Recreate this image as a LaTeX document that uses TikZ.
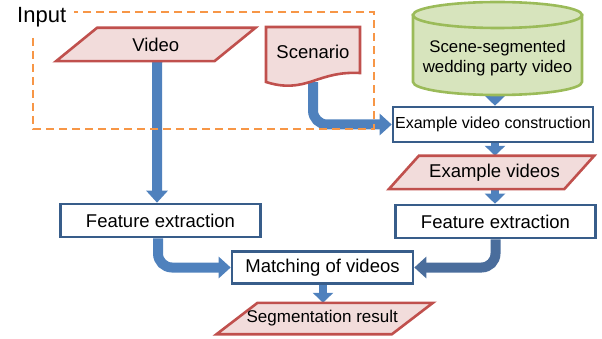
\documentclass[tikz,border=0pt]{standalone}
\usepackage{fontspec}
\setmainfont{Liberation Sans}
\usetikzlibrary{arrows.meta,backgrounds}
\definecolor{boxblue}{HTML}{385D8A}
\definecolor{arrblue}{HTML}{4F81BD}
\definecolor{arrdark}{HTML}{4A6D9C}
\definecolor{parafill}{HTML}{F2DCDB}
\definecolor{paradraw}{HTML}{C0504D}
\definecolor{cylfill}{HTML}{D7E4BD}
\definecolor{cyldraw}{HTML}{9BBB59}
\definecolor{dashorange}{HTML}{F79646}
\begin{document}
\begin{tikzpicture}[x=1pt,y=-1pt,
 procbox/.style={draw=boxblue, line width=2.6pt, fill=white, minimum width=200pt, minimum height=33pt, inner sep=0pt, font=\fontsize{18.5}{20}\selectfont},
 txt/.style={inner sep=0pt, font=\fontsize{18.5}{20}\selectfont},
 bigarrow/.style={draw=arrblue, line width=10pt, -{Triangle[width=21pt,length=12pt]}, rounded corners=14pt},
 smallarrow/.style={draw=arrblue, line width=8pt, -{Triangle[width=20pt,length=10pt]}},
 parashape/.style={fill=parafill, draw=paradraw, line width=2.6pt, line join=miter},
]
\useasboundingbox (0,0) rectangle (602,339);
% nodes
\node[txt, minimum width=158pt, minimum height=33pt] (vid) at (155.75,44.5) {Video};
\node[txt, minimum width=94pt, minimum height=55pt] (scen) at (313,54.5) {};
\node[txt] at (313,52) {Scenario};
\node[txt, minimum width=169pt, minimum height=74pt, align=center, font=\fontsize{16.8}{20}\selectfont] (cyl) at (497.5,58) {Scene-segmented\\wedding party video};
\node[procbox, minimum height=35pt, font=\fontsize{16}{18}\selectfont] (evc) at (493,124.5) {Example video construction};
\node[txt, minimum width=175pt, minimum height=33pt] (ev) at (491.5,172.5) {\hspace*{6pt}Example videos};
\node[procbox] (fel) at (160.5,220.5) {Feature extraction};
\node[procbox] (fer) at (495.5,221.5) {Feature extraction};
\node[procbox, minimum width=181pt, minimum height=32pt] (match) at (322.5,267.5) {Matching of videos};
\node[txt, minimum width=175pt, minimum height=31pt, font=\fontsize{17}{19}\selectfont] (seg) at (324.75,318.5) {\hspace*{-5pt}Segmentation result};

\begin{scope}[on background layer]
% connectors
\draw[bigarrow] ([xshift=1.5pt]vid.south) -- ([xshift=-3.5pt]fel.north);
\draw[bigarrow] ([xshift=-2.5pt]fel.south) |- (match.west);
\draw[bigarrow, draw=arrdark] (fer.south) |- (match.east);
\draw[bigarrow] (scen.south) |- (evc.west);
\draw[smallarrow] ([xshift=-2.5pt]cyl.south) -- ([xshift=2pt]evc.north);
\draw[smallarrow] ([xshift=2pt]evc.south) -- ([xshift=3.5pt]ev.north);
\draw[smallarrow] ([xshift=3.5pt]ev.south) -- ([xshift=-0.5pt]fer.north);
\draw[smallarrow] ([xshift=0.5pt]match.south) -- ([xshift=-1.75pt]seg.north);
% shapes
\draw[parashape] ([xshift=20.5pt]vid.north west) -- ([xshift=20.5pt]vid.north east) -- ([xshift=-20.5pt]vid.south east) -- ([xshift=-20.5pt]vid.south west) -- cycle;
\draw[parashape] ([xshift=15pt]ev.north west) -- ([xshift=15pt]ev.north east) -- ([xshift=-15pt]ev.south east) -- ([xshift=-15pt]ev.south west) -- cycle;
\draw[parashape] ([xshift=20.5pt]seg.north west) -- ([xshift=20.5pt]seg.north east) -- ([xshift=-20.5pt]seg.south east) -- ([xshift=-20.5pt]seg.south west) -- cycle;
\draw[parashape] (266,27) -- (360,27) -- (360,73) .. controls (340,72) and (328,76) .. (313,81) .. controls (298,86) and (285,88) .. (266,82) -- cycle;
\draw[fill=cylfill, draw=cyldraw, line width=2.6pt] (413,15) -- (413,82) arc[start angle=180, end angle=360, x radius=84.5pt, y radius=13pt] -- (582,15) -- cycle;
\draw[fill=cylfill, draw=cyldraw, line width=2.6pt] (497.5,15) ellipse[x radius=84.5pt, y radius=13pt];
\end{scope}
\draw[dashorange, line width=2.8pt, dash pattern=on 8pt off 5pt] (33,12) rectangle (374,129);
\node[anchor=base west, fill=white, inner xsep=8pt, inner ysep=6pt, font=\fontsize{22}{24}\selectfont] (inp) at (9,22.5) {Input};
\end{tikzpicture}
\end{document}
